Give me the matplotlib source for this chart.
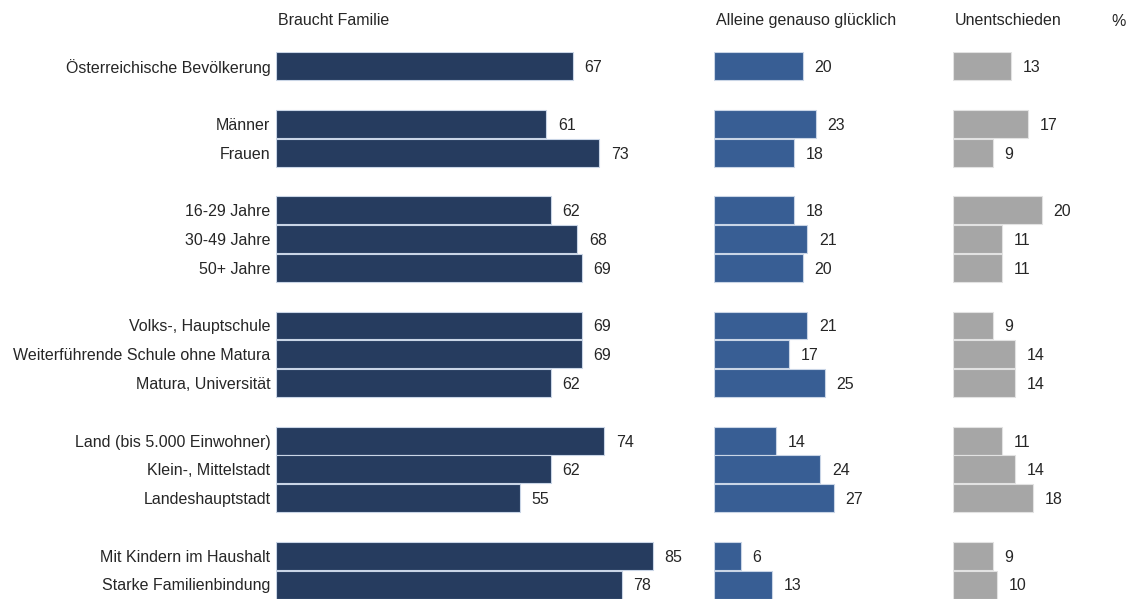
import matplotlib.pyplot as plt
import numpy as np

plt.rcParams['font.family'] = ['Liberation Sans', 'DejaVu Sans']

categories = [
    "Österreichische Bevölkerung",
    "Männer", "Frauen",
    "16-29 Jahre", "30-49 Jahre", "50+ Jahre",
    "Volks-, Hauptschule", "Weiterführende Schule ohne Matura", "Matura, Universität",
    "Land (bis 5.000 Einwohner)", "Klein-, Mittelstadt", "Landeshauptstadt",
    "Mit Kindern im Haushalt", "Starke Familienbindung",
]
# Zeilenposition, Leerzeile zwischen den Gruppen
rows = [0, 2, 3, 5, 6, 7, 9, 10, 11, 13, 14, 15, 17, 18]

braucht_familie = [67, 61, 73, 62, 68, 69, 69, 69, 62, 74, 62, 55, 85, 78]
alleine_gluecklich = [20, 23, 18, 18, 21, 20, 21, 17, 25, 14, 24, 27, 6, 13]
unentschieden = [13, 17, 9, 20, 11, 11, 9, 14, 14, 11, 14, 18, 9, 10]

headers = ["Braucht Familie", "Alleine genauso glücklich", "Unentschieden"]
colors = ["#263c5f", "#385e94", "#a6a6a6"]
edges = ["#c9d5e6", "#c9d5e6", "#e2e2e2"]

W, H = 1131, 599
fig = plt.figure(figsize=(W / 100, H / 100), dpi=100)

PX_PER_UNIT = 4.43
top_px = 52.0
panels = [(276, 700), (714, 940), (953, 1131)]
series = [braucht_familie, alleine_gluecklich, unentschieden]
FS = 11.5
TXT = "#262626"

axes = []
for (x0, x1), vals, col, ec, head in zip(panels, series, colors, edges, headers):
    ax = fig.add_axes([x0 / W, 0, (x1 - x0) / W, (H - top_px) / H])
    ax.barh(rows, vals, height=0.97, color=col, edgecolor=ec, linewidth=0.8)
    ax.set_xlim(0, (x1 - x0) / PX_PER_UNIT)
    ax.set_ylim(18.5, -0.5)
    ax.axis("off")
    for r, v in zip(rows, vals):
        ax.annotate(str(v), (v, r), xytext=(8.5, -1), textcoords="offset points",
                    ha="left", va="center", fontsize=FS, color=TXT)
    ax.annotate(head, (0, -1.6), xytext=(1.5, 0), textcoords="offset points",
                ha="left", va="center", fontsize=FS, color=TXT,
                annotation_clip=False)
    axes.append(ax)

for r, c in zip(rows, categories):
    axes[0].annotate(c, (0, r), xytext=(-4, -1), textcoords="offset points",
                     ha="right", va="center", fontsize=FS, color=TXT,
                     annotation_clip=False)

fig.text(1111 / W, 1 - 21 / H, "%", ha="left", va="center", fontsize=FS, color=TXT)

fig.savefig("out.png", dpi=100)
